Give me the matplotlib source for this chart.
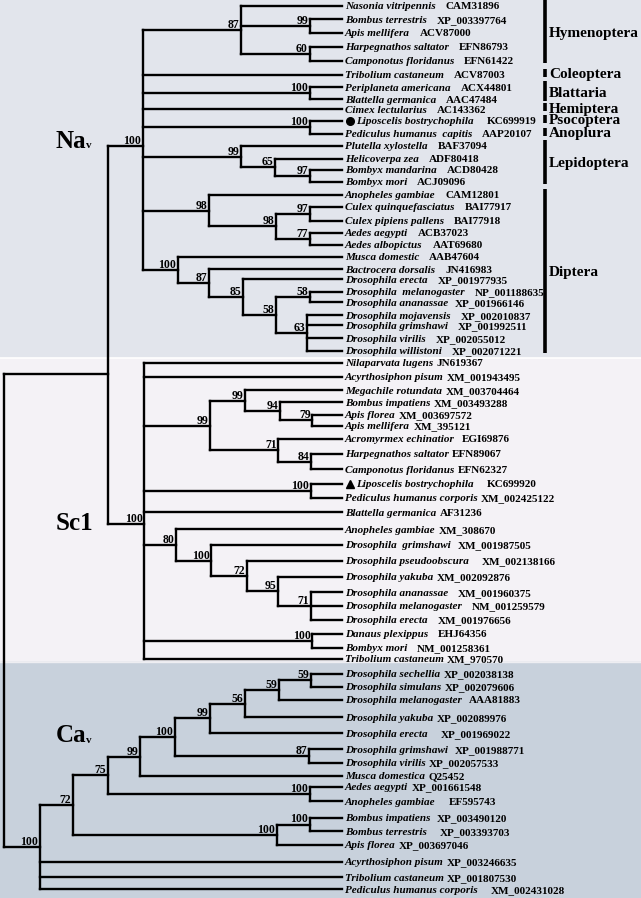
import matplotlib
matplotlib.use("Agg")
import matplotlib.pyplot as plt
from matplotlib.collections import LineCollection

plt.rcParams['font.family'] = ['Liberation Serif', 'DejaVu Serif']

# leaf labels top to bottom: "species  accession" (spaces before the accession = gap)
leaf_labels = [
    # Na_v
    "Nasonia vitripennis   CAM31896",
    "Bombus terrestris   XP_003397764",
    "Apis mellifera   ACV87000",
    "Harpegnathos saltator   EFN86793",
    "Camponotus floridanus   EFN61422",
    "Tribolium castaneum   ACV87003",
    "Periplaneta americana   ACX44801",
    "Blattella germanica   AAC47484",
    "Cimex lectularius   AC143362",
    "Liposcelis bostrychophila    KC699919",
    "Pediculus humanus  capitis   AAP20107",
    "Plutella xylostella   BAF37094",
    "Helicoverpa zea   ADF80418",
    "Bombyx mandarina   ACD80428",
    "Bombyx mori   ACJ09096",
    "Anopheles gambiae   CAM12801",
    "Culex quinquefasciatus   BAI77917",
    "Culex pipiens pallens   BAI77918",
    "Aedes aegypti   ACB37023",
    "Aedes albopictus   AAT69680",
    "Musca domestic   AAB47604",
    "Bactrocera dorsalis   JN416983",
    "Drosophila erecta   XP_001977935",
    "Drosophila  melanogaster   NP_001188635",
    "Drosophila ananassae  XP_001966146",
    "Drosophila mojavensis   XP_002010837",
    "Drosophila grimshawi   XP_001992511",
    "Drosophila virilis   XP_002055012",
    "Drosophila willistoni   XP_002071221",
    # Sc1
    "Nilaparvata lugens JN619367",
    "Acyrthosiphon pisum XM_001943495",
    "Megachile rotundata XM_003704464",
    "Bombus impatiens XM_003493288",
    "Apis florea XM_003697572",
    "Apis mellifera XM_395121",
    "Acromyrmex echinatior  EGI69876",
    "Harpegnathos saltator EFN89067",
    "Camponotus floridanus EFN62327",
    "Liposcelis bostrychophila    KC699920",
    "Pediculus humanus corporis XM_002425122",
    "Blattella germanica AF31236",
    "Anopheles gambiae XM_308670",
    "Drosophila  grimshawi  XM_001987505",
    "Drosophila pseudoobscura    XM_002138166",
    "Drosophila yakuba XM_002092876",
    "Drosophila ananassae   XM_001960375",
    "Drosophila melanogaster   NM_001259579",
    "Drosophila erecta   XM_001976656",
    "Danaus plexippus   EHJ64356",
    "Bombyx mori   NM_001258361",
    "Tribolium castaneum XM_970570",
    # Ca_v
    "Drosophila sechellia XP_002038138",
    "Drosophila simulans XP_002079606",
    "Drosophila melanogaster  AAA81883",
    "Drosophila yakuba XP_002089976",
    "Drosophila erecta    XP_001969022",
    "Drosophila grimshawi  XP_001988771",
    "Drosophila virilis XP_002057533",
    "Musca domestica Q25452",
    "Aedes aegypti XP_001661548",
    "Anopheles gambiae    EF595743",
    "Bombus impatiens  XP_003490120",
    "Bombus terrestris    XP_003393703",
    "Apis florea XP_003697046",
    "Acyrthosiphon pisum XP_003246635",
    "Tribolium castaneum XP_001807530",
    "Pediculus humanus corporis    XM_002431028",
]

leaf_y = [
    5.7, 19.3, 33, 47, 60.7, 74.7, 87.3, 99.3, 109.3, 120.7, 134, 146, 158.7, 170, 182,
    195, 206.7, 220.7, 233, 244.7, 257, 269.3, 279.3, 291.7, 302.3, 315.3, 325.3, 338.3, 350.7,
    363, 377, 390.3, 402.3, 415, 425.7, 439, 453.7, 469.3, 483.7, 497.7, 512.3,
    529.3, 545, 560.7, 576.7, 592.3, 605.7, 620, 633.7, 647.7, 659,
    674, 686.7, 699.7, 717.3, 733.3, 749.3, 762.7, 776, 786.7, 801.3, 817.7, 831.3, 845,
    862, 877.3, 889.3,
]

leaf_marks = {9: 'o', 38: '^'}

# orders on the right of the Na_v part
clade_names = ['Hymenoptera', 'Coleoptera', 'Blattaria', 'Hemiptera',
               'Psocoptera', 'Anoplura', 'Lepidoptera', 'Diptera']
clade_first = [0, 5, 6, 8, 9, 10, 11, 15]
clade_last = [4, 5, 7, 8, 9, 10, 14, 28]

gene_names = ['Na', 'Sc1', 'Ca']
gene_sub = ['v', '', 'v']
gene_y = [147.5, 529.5, 742.5]


def node(support, x, *kids, y=None):
    return {'support': support, 'x': x, 'kids': kids, 'y': y}


nav = node(100, 142.7,
           node(87, 241, 0, node(99, 309.5, 1, 2), node(60, 309.5, 3, 4)),
           5,
           node(100, 309.5, 6, 7),
           8,
           node(100, 309.5, 9, 10),
           node(99, 241, 11, node(65, 274.7, 12, node(97, 309.5, 13, 14))),
           node(98, 208.5, 15, node(98, 276, node(97, 309.5, 16, 17), node(77, 309.5, 18, 19))),
           node(100, 177.8, 20,
                node(87, 208.5, 21,
                     node(85, 243.3, 22,
                          node(58, 276, node(58, 309.5, 23, 24),
                               node(63, 306.6, 25, 26, 27, 28))))),
           y=146)

sc1 = node(100, 144.3,
           29, 30,
           node(99, 209.7,
                node(99, 245.3, 31, node(94, 280, 32, node(79, 312, 33, 34))),
                node(71, 278, 35, node(84, 310.7, 36, 37))),
           node(100, 310.7, 38, 39),
           40,
           node(80, 175.8, 41,
                node(100, 211.4, 42,
                     node(72, 246.5, 43,
                          node(95, 278, 44, node(71, 310.7, 45, 46, 47))))),
           node(100, 312, 48, 49),
           50,
           y=524)

cav = node(100, 39.7,
           node(72, 72.8,
                node(75, 107.5,
                     node(99, 139.8,
                          node(100, 174.6,
                               node(99, 209.7,
                                    node(56, 244.5,
                                         node(59, 279.2, node(59, 310.7, 51, 52), 53),
                                         54),
                                    55),
                               node(87, 308.7, 56, 57)),
                          58),
                     node(100, 309.5, 59, 60)),
                node(100, 276.8, node(100, 309.5, 61, 62), 63)),
           64, 65, 66)

tree = node(None, 4, node(None, 107.5, nav, sc1, y=374), cav)

TIP_X = 342

fig = plt.figure(figsize=(6.41, 8.98), dpi=100)
ax = fig.add_axes([0, 0, 1, 1])
ax.set_xlim(0, 641)
ax.set_ylim(898, 0)
ax.axis('off')

# background bands for the three gene families
ax.axhspan(0, 357.5, color='#e2e5ec', zorder=0)
ax.axhspan(357.5, 662, color='#f4f2f6', zorder=0)
ax.axhspan(662, 898, color='#c8d1dc', zorder=0)
ax.axhline(357.5, color='white', lw=1.2, zorder=0.5)
ax.axhline(662, color='#eeeef2', lw=1.0, zorder=0.5)

segs = []


def layout(n):
    if isinstance(n, int):
        return TIP_X, leaf_y[n]
    pts = [layout(k) for k in n['kids']]
    ys = [p[1] for p in pts]
    y = n['y'] if n['y'] is not None else (ys[0] + ys[-1]) / 2
    segs.append([(n['x'], ys[0]), (n['x'], ys[-1])])
    for cx, cy in pts:
        segs.append([(n['x'], cy), (cx, cy)])
    if n['support'] is not None:
        ax.text(n['x'] - 1.5, y - 2, str(n['support']), fontsize=8.5,
                fontweight='bold', ha='right', va='baseline', zorder=3)
    return n['x'], y


layout(tree)
ax.add_collection(LineCollection(segs, colors='black', linewidths=1.7,
                                 capstyle='projecting', zorder=2))

# leaf labels: italic species, then the accession on the same baseline
renderer = fig.canvas.get_renderer()
for i, lab in enumerate(leaf_labels):
    sp, acc = lab.rsplit(' ', 1)
    n_sp = len(sp) - len(sp.rstrip()) + 1
    sp = sp.rstrip()
    x0 = TIP_X + 3
    if i in leaf_marks:
        ax.plot(TIP_X + 8, leaf_y[i], marker=leaf_marks[i], color='black',
                markersize=5.5, zorder=3)
        x0 = TIP_X + 14
    t = ax.text(x0, leaf_y[i] + 3.4, sp, fontsize=8, fontweight='bold',
                fontstyle='italic', ha='left', va='baseline', zorder=3)
    x1 = t.get_window_extent(renderer).x1
    ax.text(x1 + 3.3 * n_sp, leaf_y[i] + 3.4, acc, fontsize=8, fontweight='bold',
            ha='left', va='baseline', zorder=3)

# order bars
for name, a, b in zip(clade_names, clade_first, clade_last):
    y0, y1 = leaf_y[a] - 6, leaf_y[b] + 2
    ax.plot([545, 545], [y0, y1], color='black', lw=2.6, solid_capstyle='butt')
    ax.text(549, (y0 + y1) / 2 + 5.5, name, fontsize=11, fontweight='bold',
            ha='left', va='baseline')

# gene family names
for name, sub, gy in zip(gene_names, gene_sub, gene_y):
    ax.text(56, gy, name, fontsize=18, fontweight='bold', ha='left', va='baseline')
    if sub:
        ax.text(86, gy + 0.8, sub, fontsize=8, fontweight='bold', ha='left', va='baseline')

fig.savefig('out.png', dpi=100)
